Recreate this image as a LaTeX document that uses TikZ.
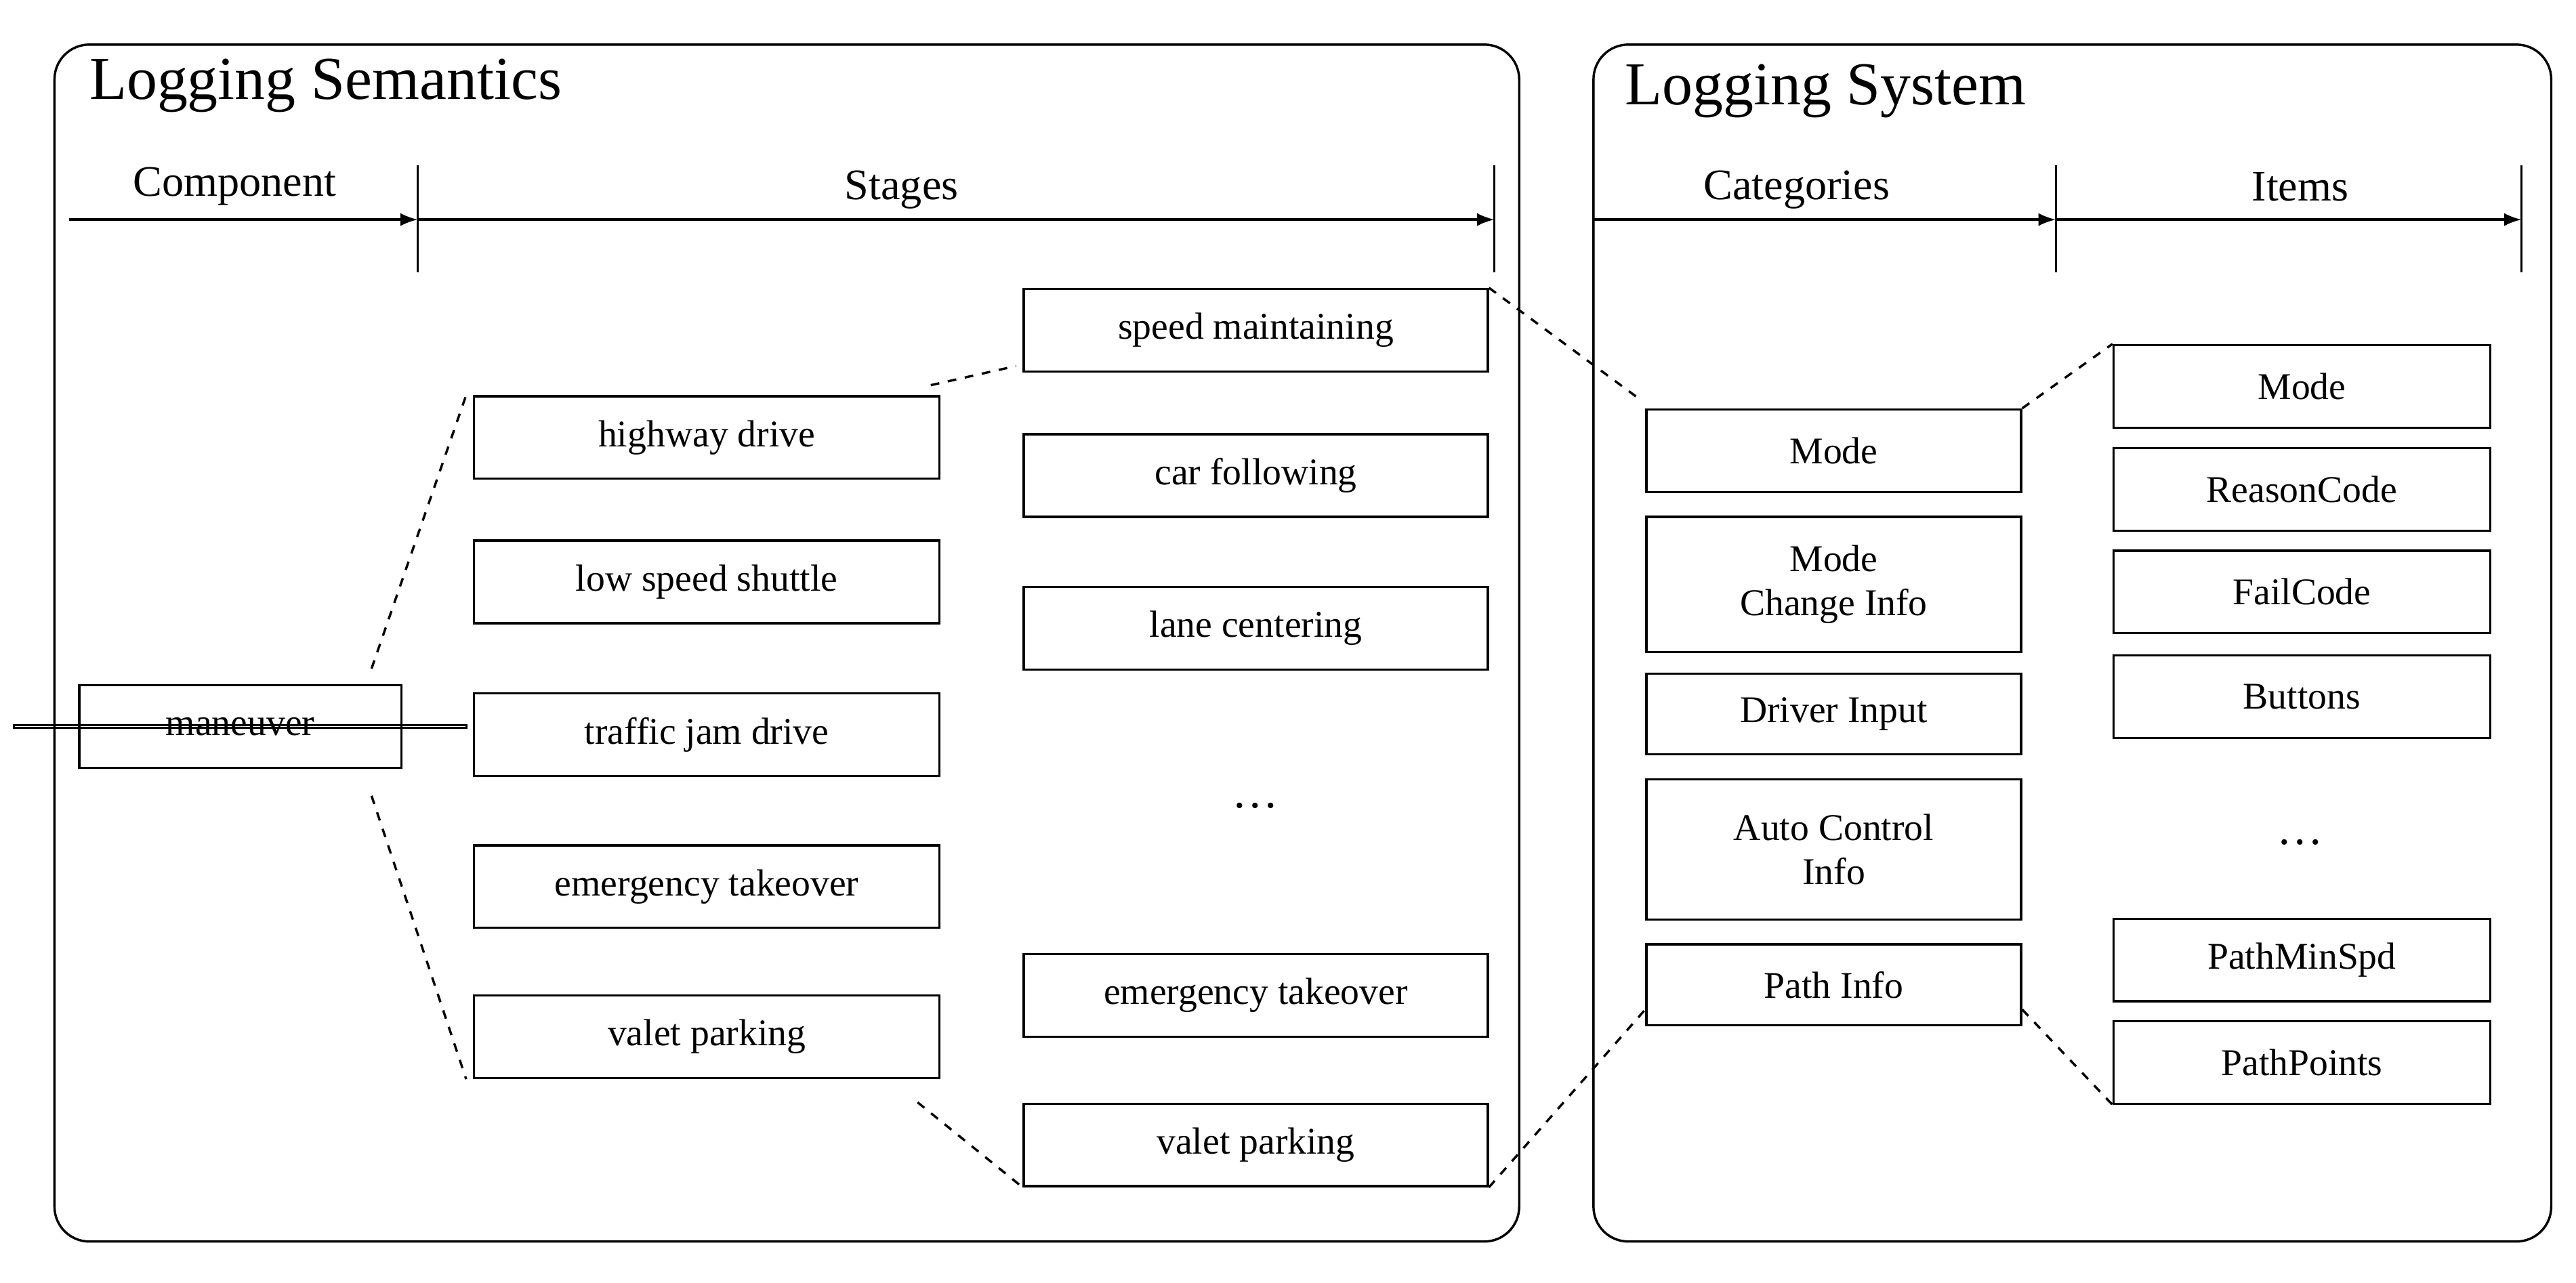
\documentclass[tikz,border=0pt]{standalone}
\usepackage{fontspec}
\setmainfont{Liberation Serif}
\usetikzlibrary{arrows.meta,positioning,calc}
\tikzset{
  box/.style={draw,thick,align=center,inner sep=0pt,font=\fontsize{13}{15}\selectfont},
  frame/.style={draw,thick,rounded corners=12pt},
  axis/.style={thick,-{Latex[length=6pt]}},
  link/.style={dashed,thick}
}
\begin{document}
\begin{tikzpicture}[x=0.02cm,y=-0.02cm]
  \useasboundingbox (0,0) rectangle (1560,777);
  % Frames
  \draw[frame] (33,27) rectangle (920,752);
  \draw[frame] (965,27) rectangle (1545,752);
  \node[anchor=west,font=\fontsize{21}{24}\selectfont] at (48,52) {Logging Semantics};
  \node[anchor=west,font=\fontsize{21}{24}\selectfont] at (978,55) {Logging System};

  % Axes
  \coordinate (a0) at (42,133);
  \coordinate (a1) at (253,133);
  \coordinate (a2) at (905,133);
  \draw[axis] (a0) -- (a1);
  \draw[axis] (a1) -- (a2);
  \draw[thick] (253,100) -- (253,165);
  \draw[thick] (905,100) -- (905,165);
  \node[font=\fontsize{15}{18}\selectfont] at (142,113) {Component};
  \node[font=\fontsize{15}{18}\selectfont] at (546,115) {Stages};
  \coordinate (b0) at (965,133);
  \coordinate (b1) at (1245,133);
  \coordinate (b2) at (1527,133);
  \draw[axis] (b0) -- (b1);
  \draw[axis] (b1) -- (b2);
  \draw[thick] (1245,100) -- (1245,165);
  \draw[thick] (1527,100) -- (1527,165);
  \node[font=\fontsize{15}{18}\selectfont] at (1088,115) {Categories};
  \node[font=\fontsize{15}{18}\selectfont] at (1393,113) {Items};

  % Component
  \node[box,minimum width=195\pgflinewidth] (man) at (145.5,440) {};
  \draw[thick] (48,415) rectangle (243,465);
  \node[font=\fontsize{13}{15}\selectfont] at (145.5,440) {maneuver};

  % Stages (first level)
  \foreach \y/\t [count=\i] in {265/highway drive,352.5/low speed shuttle,445/traffic jam drive,537/emergency takeover,628/valet parking}
    \node[box,minimum width=5.64cm,minimum height=1cm] (s\i) at (428,\y) {\t};

  % Stages (second level)
  \foreach \y/\t [count=\i] in {200/speed maintaining,288/car following,380.5/lane centering,603/emergency takeover,693.5/valet parking}
    \node[box,minimum width=5.62cm,minimum height=1cm] (t\i) at (760.5,\y) {\t};
  \node[font=\fontsize{16}{18}\selectfont] (tdots) at (760,488) {\dots};

  % Categories
  \node[box,minimum width=4.54cm,minimum height=1cm] (c1) at (1110.5,273) {Mode};
  \node[box,minimum width=4.54cm,minimum height=1.64cm] (c2) at (1110.5,354) {Mode\\Change Info};
  \node[box,minimum width=4.54cm,minimum height=0.98cm] (c3) at (1110.5,432.5) {Driver Input};
  \node[box,minimum width=4.54cm,minimum height=1.7cm] (c4) at (1110.5,514.5) {Auto Control\\Info};
  \node[box,minimum width=4.54cm,minimum height=0.98cm] (c5) at (1110.5,596.5) {Path Info};

  % Items
  \foreach \y/\t [count=\i] in {234/Mode,296.5/ReasonCode,358.5/FailCode,422/Buttons,581.5/PathMinSpd,643.5/PathPoints}
    \node[box,minimum width=4.56cm,minimum height=1cm] (i\i) at (1394,\y) {\t};
  \node[font=\fontsize{16}{18}\selectfont] (idots) at (1393,510) {\dots};

  % Dashed links
  \coordinate (m1) at (225,405);
  \coordinate (m2) at (225,482);
  \draw[link] (m1) -- ($(s1.north west)+(-4,0)$);
  \draw[link] (m2) -- ($(s5.south west)+(-4,0)$);
  \draw[link] ($(s1.north east)+(-6,-6)$) -- ($(t1.south west)+(-4,-4)$);
  \draw[link] ($(s5.south east)+(-14,14)$) -- (t5.south west);
  \draw[link] (t1.north east) -- ($(c1.north west)+(-4,-6)$);
  \draw[link] (t5.south east) -- ($(c5.west)+(0,15)$);
  \draw[link] (c1.north east) -- (i1.north west);
  \draw[link] ($(c5.east)+(0,15)$) -- (i6.south west);
\end{tikzpicture}
\end{document}
